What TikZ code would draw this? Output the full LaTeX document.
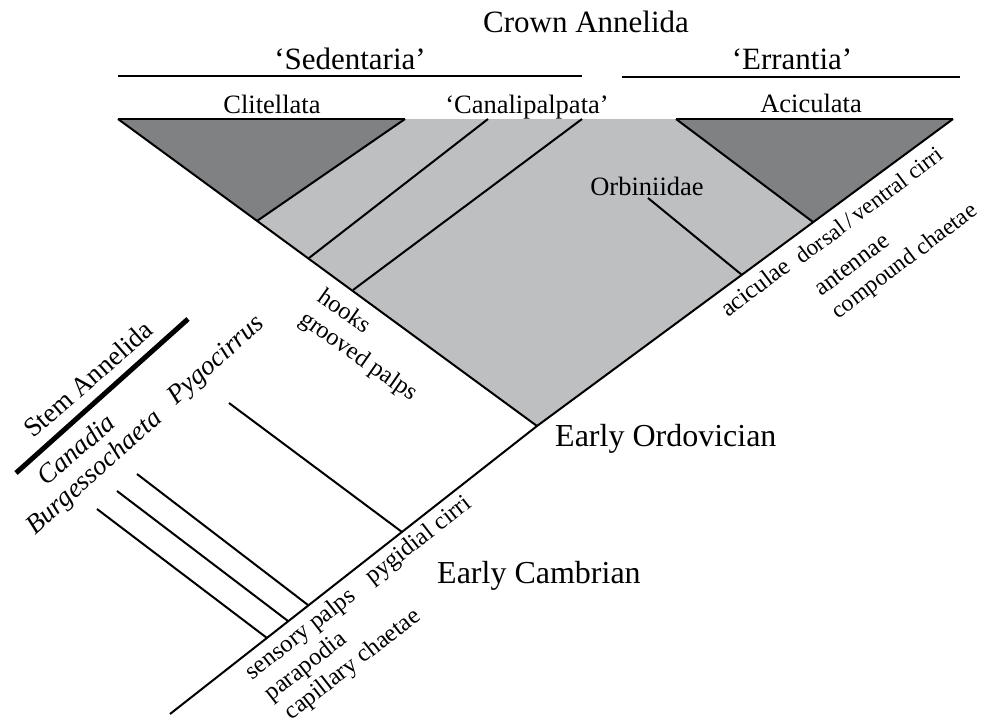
\documentclass[tikz,border=0pt]{standalone}
\usepackage{fontspec}
\setmainfont{Liberation Serif}
\definecolor{lightgr}{RGB}{190,191,193}
\definecolor{darkgr}{RGB}{128,129,131}
\tikzset{
  edge/.style={line width=2pt, black},
  thickedge/.style={line width=5pt, black},
  toplab/.style={font=\fontsize{31}{31}\selectfont, inner sep=0pt},
  biglab/.style={font=\fontsize{32}{32}\selectfont, inner sep=0pt},
  medlab/.style={font=\fontsize{26.5}{26.5}\selectfont, inner sep=0pt},
  smalllab/.style={font=\fontsize{24.5}{24.5}\selectfont, inner sep=0pt},
  stemlab/.style={font=\fontsize{27}{27}\selectfont\itshape, inner sep=0pt},
}
\begin{document}
\begin{tikzpicture}[x=1pt,y=-1pt]
\useasboundingbox (0,0) rectangle (981,725);
% key points
\coordinate (TL) at (118,119);
\coordinate (TR) at (953,119);
\coordinate (Apex) at (537,426);
\coordinate (Base) at (170,714);
\coordinate (A1) at (257,221);
\coordinate (A1top) at (405,119);
\coordinate (B1) at (309,258);
\coordinate (B1top) at (488,119);
\coordinate (C1) at (353,290);
\coordinate (C1top) at (582,119);
\coordinate (AcL) at (676,119);
\coordinate (AcB) at (813,222);
\coordinate (OrbT) at (648,198);
\coordinate (OrbB) at (742,275);
\coordinate (PygT) at (229,403);
\coordinate (PygB) at (402,532);
\coordinate (S1T) at (137,474);
\coordinate (S1B) at (308,605);
\coordinate (S2T) at (117,491);
\coordinate (S2B) at (288,621);
\coordinate (S3T) at (97,509);
\coordinate (S3B) at (267,638);
\coordinate (StemA) at (16,473);
\coordinate (StemB) at (188,319);
\coordinate (SedL) at (118,76);
\coordinate (SedR) at (582,76);
\coordinate (ErrL) at (622,77);
\coordinate (ErrR) at (960,77);
% fills
\fill[lightgr] (A1) -- (A1top) -- (TR) -- (Apex) -- cycle;
\fill[darkgr] (TL) -- (A1top) -- (A1) -- cycle;
\fill[darkgr] (AcL) -- (TR) -- (AcB) -- cycle;
% lines
\draw[edge] (TL) -- (Apex);
\draw[edge] (Base) -- (Apex) -- (TR);
\draw[edge] (TL) -- (A1top);
\draw[edge] (AcL) -- (TR);
\draw[edge] (A1) -- (A1top);
\draw[edge] (B1) -- (B1top);
\draw[edge] (C1) -- (C1top);
\draw[edge] (AcL) -- (AcB);
\draw[edge] (OrbT) -- (OrbB);
\draw[edge] (PygT) -- (PygB);
\draw[edge] (S1T) -- (S1B);
\draw[edge] (S2T) -- (S2B);
\draw[edge] (S3T) -- (S3B);
\draw[thickedge] (StemA) -- (StemB);
\draw[edge] (SedL) -- (SedR);
\draw[edge] (ErrL) -- (ErrR);
% labels
\node[toplab, anchor=base west] (crown) at (483,33) {Crown Annelida};
\node[toplab, anchor=base] (sed) at (350,69) {‘Sedentaria’};
\node[toplab, anchor=base] (err) at (792,69) {‘Errantia’};
\node[medlab, anchor=base] (clit) at (272,113) {Clitellata};
\node[medlab, anchor=base] (cana) at (527,113) {‘Canalipalpata’};
\node[medlab, anchor=base] (acic) at (811,112) {Aciculata};
\node[medlab, anchor=base] (orbi) at (647,195) {Orbiniidae};
\node[biglab, anchor=base west] (eord) at (555,446) {Early Ordovician};
\node[biglab, anchor=base west] (ecam) at (437,583) {Early Cambrian};
\node[smalllab, rotate=38] (pygc) at (419,541) {pygidial cirri};
\node[smalllab, rotate=38] (senp) at (301,635) {sensory palps};
\node[smalllab, rotate=38] (parp) at (306,667) {parapodia};
\node[smalllab, rotate=38] (capc) at (353,665) {capillary chaetae};
\node[smalllab, rotate=-35] (hook) at (345,310) {hooks};
\node[smalllab, rotate=-35] (grov) at (358,357) {grooved palps};
\node[smalllab, rotate=37] (acul) at (755,287) {aciculae};
\node[smalllab, rotate=37, font=\fontsize{23}{23}\selectfont] (dors) at (869,205) {dorsal\,/\,ventral cirri};
\node[smalllab, rotate=37] (ante) at (852,265) {antennae};
\node[smalllab, rotate=37, font=\fontsize{23.5}{23.5}\selectfont] (comp) at (905,262) {compound chaetae};
\node[stemlab, rotate=41] (cana2) at (76,449) {Canadia};
\node[stemlab, rotate=42] (burg) at (95,473) {Burgessochaeta};
\node[stemlab, rotate=42] (pygo) at (217,361) {Pygocirrus};
\node[font=\fontsize{27}{27}\selectfont, inner sep=0pt, rotate=41] (stem) at (88,379) {Stem Annelida};
\end{tikzpicture}
\end{document}
